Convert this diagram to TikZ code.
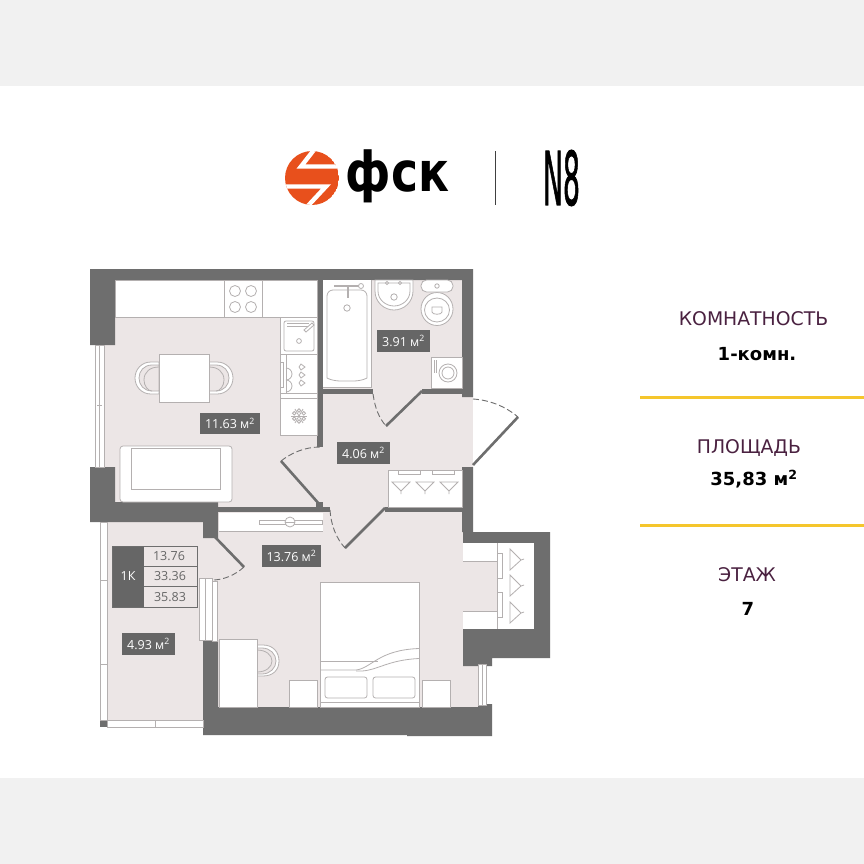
\documentclass[tikz,border=0pt]{standalone}
\usepackage{fontspec}
\setmainfont{DejaVu Sans}
\newfontfamily\labelfont{Open Sans}
\newfontfamily\brandfont[FakeBold=1.6]{DejaVu Sans}
\definecolor{wallc}{HTML}{6E6E6E}
\definecolor{roomc}{HTML}{ECE6E6}
\definecolor{bandc}{HTML}{F1F1F1}
\definecolor{linec}{HTML}{B4B0B0}
\definecolor{tagc}{HTML}{666666}
\definecolor{plumc}{HTML}{4A2140}
\definecolor{goldc}{HTML}{F5C62C}
\definecolor{logoc}{HTML}{E8501C}
\tikzset{
 x=1pt,y=-1pt,
 wall/.style={fill=wallc,draw=none},
 room/.style={fill=roomc,draw=none},
 clean/.style={fill=white,draw=none},
 furn/.style={fill=white,draw=linec,line width=.8pt},
 thin line/.style={draw=linec,line width=.8pt},
 leaf/.style={draw=wallc,line width=2.6pt},
 swing/.style={draw=wallc,line width=.9pt,dash pattern=on 6pt off 3pt},
 tag/.style={fill=tagc,text=white,inner sep=0pt,anchor=center,font=\labelfont\fontsize{12.5}{13}\selectfont},
 caption/.style={text=plumc,anchor=center,inner sep=0pt,font=\fontsize{18.8}{20}\selectfont},
 datum/.style={text=black,anchor=center,inner sep=0pt,font=\bfseries\fontsize{18}{20}\selectfont},
 cell/.style={text=tagc,anchor=center,inner sep=0pt,font=\labelfont\fontsize{12.5}{13}\selectfont},
 rule/.style={draw=goldc,line width=2.6pt},
}
\begin{document}
\begin{tikzpicture}
\useasboundingbox (0,0) rectangle (864,864);
\fill[white] (0,0) rectangle (864,864);
\fill[bandc] (0,0) rectangle (864,86);
\fill[bandc] (0,778) rectangle (864,864);

% logo
\begin{scope}
\clip (312,178) circle (27);
\fill[logoc] (312,178) circle (27);
\draw[white,line width=4.4pt,miter limit=10] (317,146) -- (301,166.5) -- (345,166.5);
\draw[white,line width=4.4pt,miter limit=10] (280,186.5) -- (326,186.5) -- (305,209);
\end{scope}
\node[inner sep=0pt,anchor=center] (fsk) at (397.5,176) {\scalebox{.83}[1]{\fontsize{55}{55}\selectfont\bfseries фск}};
\draw[black!75,line width=.9pt] (495.5,151) -- (495.5,205);
\node[inner sep=0pt,anchor=center] (neight) at (561.5,178) {\scalebox{.36}[1]{\fontsize{74}{74}\brandfont N8}};

% floors
\path[room] (104,280) rectangle (317,507);
\path[room] (317,394) rectangle (473,512);
\path[room] (323,280) rectangle (462,394);
\path[room] (218,507) rectangle (463,707);
\path[room] (463,561) rectangle (497,611);
\path[room] (463,666) rectangle (478,707);
\path[room] (107,522) rectangle (203,720);
\path[room] (203,538) rectangle (218,640);
\fill[white] (473,399) -- (518,417) -- (473,465) -- cycle;

% walls
\path[wall] (90,269) -- (473,269) -- (473,397) -- (462,397) -- (462,280) -- (115,280) -- (115,345) -- (90,345) -- cycle;
\path[wall] (317,280) rectangle (323,447);
\path[wall] (322,389) rectangle (373,394);
\path[wall] (422,389) rectangle (462,394);
\path[wall] (90,467) -- (115,467) -- (115,502) -- (218,502) -- (218,538) -- (203,538) -- (203,522) -- (90,522) -- cycle;
\path[wall] (218,507) rectangle (330,512);
\path[wall] (316,502) rectangle (323,512);
\path[wall] (385,507) rectangle (463,512);
\path[wall] (462,467) -- (473,467) -- (473,532) -- (550,532) -- (550,658) -- (492,658) -- (492,666) -- (463,666) -- (463,629) -- (534,629) -- (534,543) -- (463,543) -- (463,532) -- (462,532) -- cycle;
\path[wall] (203,640) -- (218,640) -- (218,707) -- (478,707) -- (478,704) -- (492,704) -- (492,736) -- (407,736) -- (407,735) -- (203,735) -- cycle;
\path[wall] (100,720) rectangle (107,727);

% windows
\path[furn] (95,345) rectangle (104,467);
\draw[thin line] (99.5,345) -- (99.5,467);
\draw[thin line] (97,405) -- (102,405);
\path[furn] (100,522) rectangle (107,720);
\draw[thin line] (100,580) -- (107,580) (100,664) -- (107,664);
\path[furn] (107,720) rectangle (203,727);
\draw[thin line] (155,720) -- (155,727);
\path[furn] (199,578) rectangle (212,640);
\draw[thin line] (205.5,578) -- (205.5,640);
\path[furn] (212,581) rectangle (217,641);
\path[furn] (478,664) rectangle (486,705);
\draw[thin line] (482,664) -- (482,705);

% doors
\draw[leaf] (422,391) -- (386,426);
\draw[swing] (373,394) .. controls (375,408) and (379,418) .. (386,426);
\draw[leaf] (518,417) -- (473,465);
\draw[swing] (473,399) .. controls (489,400) and (505,406) .. (518,417);
\draw[leaf] (281,461) -- (320,505);
\draw[swing] (281,461) .. controls (291,453) and (305,447) .. (320,447);
\draw[leaf] (385,508) -- (345,548);
\draw[swing] (330,510) .. controls (331,525) and (336,538) .. (345,548);
\draw[leaf] (215,537) -- (244,567);
\draw[swing] (244,567) .. controls (235,575) and (224,580) .. (212,580);

% kitchen
\path[furn] (115,280) rectangle (317,317);
\draw[thin line] (224,280) -- (224,317) (262,280) -- (262,317);
\foreach \cx/\cy in {235/291,251/291,235/307,251/307} \draw[thin line] (\cx,\cy) circle (5.5);
\path[furn] (280.5,317) rectangle (317,354);
\draw[thin line,rounded corners=2pt] (284,321) rectangle (314,351);
\draw[thin line] (299,341) circle (2.4);
\draw[thin line] (287,323) -- (309,323) (287,326) -- (309,326);
\draw[thin line,fill=white] (304,330) -- (312,323) -- (314,325) -- (306,332) -- cycle;
\path[furn] (280.5,354) rectangle (317,398);
\draw[thin line] (280.5,393) -- (317,393) (286,354) -- (286,393) (280.5,362) -- (283,362) -- (283,387) -- (280.5,387);
\draw[thin line] (286,368) arc (-90:90:6) (286,380) arc (-90:90:6);
\foreach \hy in {367,375,383} \draw[thin line] (301,\hy-3) -- (305,\hy) -- (301,\hy+3) -- (299,\hy) -- cycle;
\path[furn] (280.5,398) rectangle (317,435);
\foreach \ang in {0,60,120} {\draw[thin line] (299,416) ++(\ang:-8) -- ++(\ang:16);}
\foreach \ang in {30,90,150,210,270,330} \draw[thin line] (299,416) ++(\ang:5.5) circle (1.8);

% table and chairs
\path[thin line,fill=white] (159,362) -- (151,362) .. controls (141,362) and (135,370) .. (135,378) .. controls (135,386) and (141,394) .. (151,394) -- (159,394) -- cycle;
\path[thin line,fill=roomc] (159,365) -- (152,365) .. controls (144,365) and (139,371) .. (139,378) .. controls (139,385) and (144,391) .. (152,391) -- (159,391) -- cycle;
\draw[thin line] (159,367) .. controls (150,367) and (144,372) .. (144,380) .. controls (144,386) and (148,391) .. (152,391);
\path[thin line,fill=white] (209,362) -- (217,362) .. controls (227,362) and (233,370) .. (233,378) .. controls (233,386) and (227,394) .. (217,394) -- (209,394) -- cycle;
\path[thin line,fill=roomc] (209,365) -- (216,365) .. controls (224,365) and (229,371) .. (229,378) .. controls (229,385) and (224,391) .. (216,391) -- (209,391) -- cycle;
\draw[thin line] (209,367) .. controls (218,367) and (224,372) .. (224,380) .. controls (224,386) and (220,391) .. (216,391);
\path[furn] (159,354) rectangle (209,402);

% sofa
\path[furn,rounded corners=3pt] (120,446) rectangle (232,502);
\path[furn] (131,448) rectangle (220,489);

% bathroom
\path[clean] (323,280) rectangle (371,387);
\draw[thin line] (371,280) -- (371,387) -- (323,387);
\draw[thin line,rounded corners=6pt] (327,290) -- (367,290) -- (367,372) .. controls (367,378) and (362,381) .. (347,381) .. controls (332,381) and (327,378) .. (327,372) -- cycle;
\draw[thin line] (347,308) circle (3.2);
\draw[linec,line width=2pt] (334,286) -- (361,286);
\draw[linec,line width=2pt] (348,286) -- (348,298);
\draw[thin line,fill=white] (361,286) circle (2.5);
\path[furn] (375,280) -- (413,280) -- (413,291) .. controls (413,302) and (404,310) .. (394,310) .. controls (384,310) and (375,302) .. (375,291) -- cycle;
\draw[thin line] (378,283) -- (378,291) .. controls (378,300) and (386,306) .. (394,306) .. controls (402,306) and (410,300) .. (410,291) -- (410,283) -- cycle;
\draw[thin line] (394,297) circle (3.2) (387,283) circle (1.6) (400,283) circle (1.6);
\path[furn] (437,309) ellipse (16 and 16.5);
\draw[thin line] (437,310) ellipse (12.5 and 12);
\draw[thin line] (432,307) -- (442,307) -- (442,312) .. controls (442,315) and (432,315) .. (432,312) -- cycle;
\path[furn,rounded corners=5.5pt] (421,280) rectangle (453,292);
\draw[thin line] (437,286) circle (2.2);
\path[furn] (431,357) rectangle (462,388);
\draw[thin line] (448,373) circle (9) (448,373) circle (6);
\draw[thin line] (434,360) -- (434,373) (436,360) -- (436,373);

% hall closet
\path[furn] (388,470) rectangle (462,507);
\draw[thin line] (398,470) -- (398,474) -- (420,474) -- (420,470) (432,470) -- (432,474) -- (454,474) -- (454,470);
\foreach \hx in {401,425,449} \draw[thin line] (\hx-9,482) -- (\hx+9,482) -- (\hx,491) -- cycle (\hx,491) -- (\hx,494);

% bedroom closet rail
\path[clean] (219,513) rectangle (323,531);
\draw[thin line] (219,531) -- (323,531);
\draw[thin line] (259,520) rectangle (322,524);
\path[furn] (290,522) circle (5);
\draw[thin line] (285,522) -- (295,522);

% wardrobe niche
\path[clean] (463,543) rectangle (497,561);
\path[clean] (463,611) rectangle (497,629);
\path[clean] (497,543) rectangle (534,629);
\draw[thin line] (463,561) -- (497,561) (463,611) -- (497,611) (497,543) -- (497,629);
\path[furn] (497,553) rectangle (502,578);
\path[furn] (497,592) rectangle (502,617);
\foreach \hy in {560,586,613} \draw[thin line] (510,\hy-11) -- (510,\hy+10) -- (521,\hy) -- cycle (521,\hy) -- (524,\hy-1);

% bed
\path[furn] (320,582) rectangle (419,707);
\draw[thin line] (320,661) -- (378,661);
\draw[thin line] (320,702) -- (419,702);
\draw[thin line] (320,670) -- (356,670) .. controls (372,668) and (378,650) .. (419,648.5);
\draw[thin line] (356,671) -- (362,671) .. controls (378,670) and (388,660) .. (419,658.5);
\draw[thin line,rounded corners=2.5pt] (325,677) rectangle (367,698);
\draw[thin line,rounded corners=2.5pt] (373,677) rectangle (415,698);
\path[furn] (289,680) rectangle (317,707);
\path[furn] (422,680) rectangle (450,707);

% desk
\draw[thin line,fill=white] (257,645) -- (263,645) .. controls (273,645) and (279,652) .. (279,661) .. controls (279,670) and (273,676) .. (263,676) -- (257,676) -- cycle;
\draw[thin line,fill=roomc] (257,648) -- (262,648) .. controls (270,648) and (276,654) .. (276,661) .. controls (276,668) and (270,674) .. (262,674) -- (257,674) -- cycle;
\draw[thin line] (257,650) .. controls (266,650) and (272,655) .. (272,661) .. controls (272,667) and (266,672) .. (257,672);
\path[furn] (219,639) rectangle (257,707);

% area tags
\node[tag,minimum width=60pt,minimum height=21pt] (kitchenarea) at (230,423.5) {11.63 м\textsuperscript{2}};
\node[tag,minimum width=53pt,minimum height=22pt] (batharea) at (403.5,341) {3.91 м\textsuperscript{2}};
\node[tag,minimum width=53pt,minimum height=22pt] (hallarea) at (363.5,453) {4.06 м\textsuperscript{2}};
\node[tag,minimum width=59pt,minimum height=22pt] (bedarea) at (291.5,556) {13.76 м\textsuperscript{2}};
\node[tag,minimum width=53pt,minimum height=22pt] (loggiaarea) at (148.5,644) {4.93 м\textsuperscript{2}};

% summary
\node[tag,minimum width=32pt,minimum height=61pt] (kind) at (128,576.5) {1К};
\draw[wallc,line width=1pt] (112,546) rectangle (197,607) (144,566) -- (197,566) (144,586.5) -- (197,586.5);
\node[cell] (livingarea) at (169,556) {13.76};
\node[cell] (flatarea) at (170,576) {33.36};
\node[cell] (totalarea) at (170,597) {35.83};

% right panel
\node[caption] (roomscap) at (753.5,319) {КОМНАТНОСТЬ};
\node[datum] (roomsval) at (757,354.5) {1-комн.};
\draw[rule] (640,397.5) -- (864,397.5);
\node[caption] (areacap) at (749,447.5) {ПЛОЩАДЬ};
\node[datum] (areaval) at (754,479) {35,83 м\textsuperscript{2}};
\draw[rule] (640,525.5) -- (864,525.5);
\node[caption] (floorcap) at (747,575) {ЭТАЖ};
\node[datum] (floorval) at (748,608.5) {7};
\end{tikzpicture}
\end{document}
